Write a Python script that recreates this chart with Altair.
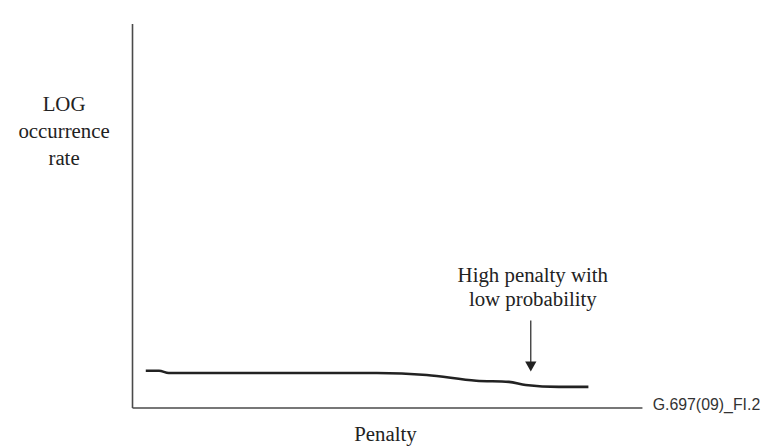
import altair as alt
import pandas as pd

# Curve (penalty vs log occurrence rate), in arbitrary units
penalty = [2.7, 5.3, 7.2, 48.0, 57.8, 67.5, 73.9, 77.2, 83.7, 89.5]
lograte = [9.6, 9.6, 9.0, 9.0, 8.5, 7.0, 6.7, 5.9, 5.4, 5.4]

# Annotation
note_lines = ["High penalty with", "low probability"]
note_x = [78.6, 78.6]
note_y = [32.6, 26.4]
arrow_x = 78.2
arrow_top = 22.7
arrow_bottom = 11.6
arrow_head = 10.7

fig_label = "G.697(09)_FI.2"

curve_df = pd.DataFrame({"p": penalty, "r": lograte})
note_df = pd.DataFrame({"p": note_x, "r": note_y, "t": note_lines})
arrow_df = pd.DataFrame({"p": [arrow_x], "r": [arrow_top], "r2": [arrow_bottom]})
head_df = pd.DataFrame({"p": [arrow_x], "r": [arrow_head]})
label_df = pd.DataFrame({"p": [102.1], "r": [0.6], "t": [fig_label]})

xs = alt.Scale(domain=[0, 100], nice=False, zero=False)
ys = alt.Scale(domain=[0, 100], nice=False, zero=False)

serif = "Liberation Serif"
fs = 21

xaxis = alt.Axis(
    domain=True, domainColor="#4a4a4a", domainWidth=1.6, ticks=False, labels=False,
    grid=False, title="Penalty", titleFont=serif, titleFontSize=fs,
    titleFontWeight="normal", titleColor="#222222", titleX=255, titleY=33,
    titleBaseline="alphabetic", titleAlign="center",
)
yaxis = alt.Axis(
    domain=True, domainColor="#4a4a4a", domainWidth=1.6, ticks=False, labels=False,
    grid=False, title=["LOG", "occurrence", "rate"], titleFont=serif, titleFontSize=fs,
    titleFontWeight="normal", titleColor="#222222", titleAngle=0, titleX=-69, titleY=88,
    titleBaseline="alphabetic", titleAlign="center", titleLineHeight=27,
)

base_axes = alt.Chart(curve_df).mark_line(
    color="#222222", strokeWidth=2.6, interpolate="monotone"
).encode(
    x=alt.X("p:Q", scale=xs, axis=xaxis),
    y=alt.Y("r:Q", scale=ys, axis=yaxis),
)

shaft = alt.Chart(arrow_df).mark_rule(color="#222222", strokeWidth=1.2).encode(
    x=alt.X("p:Q", scale=xs), y=alt.Y("r:Q", scale=ys), y2="r2:Q"
)
head = alt.Chart(head_df).mark_point(
    shape="triangle-down", filled=True, size=130, color="#222222", opacity=1
).encode(x=alt.X("p:Q", scale=xs), y=alt.Y("r:Q", scale=ys))

note = alt.Chart(note_df).mark_text(
    font=serif, fontSize=fs, color="#222222", align="center", baseline="alphabetic"
).encode(x=alt.X("p:Q", scale=xs), y=alt.Y("r:Q", scale=ys), text="t:N")

label = alt.Chart(label_df).mark_text(
    font="Liberation Sans", fontSize=16, color="#333333", align="left", baseline="middle"
).encode(x=alt.X("p:Q", scale=xs), y=alt.Y("r:Q", scale=ys), text="t:N")

chart = alt.layer(base_axes, shaft, head, note, label).properties(
    width=514, height=387,
    padding={"left": 125, "top": 14, "right": 120, "bottom": 39},
    autosize=alt.AutoSizeParams(type="none"),
).configure(background="white").configure_view(stroke="transparent", strokeWidth=0)

chart.save("out.html", embed_options={"renderer": "svg", "actions": False})
